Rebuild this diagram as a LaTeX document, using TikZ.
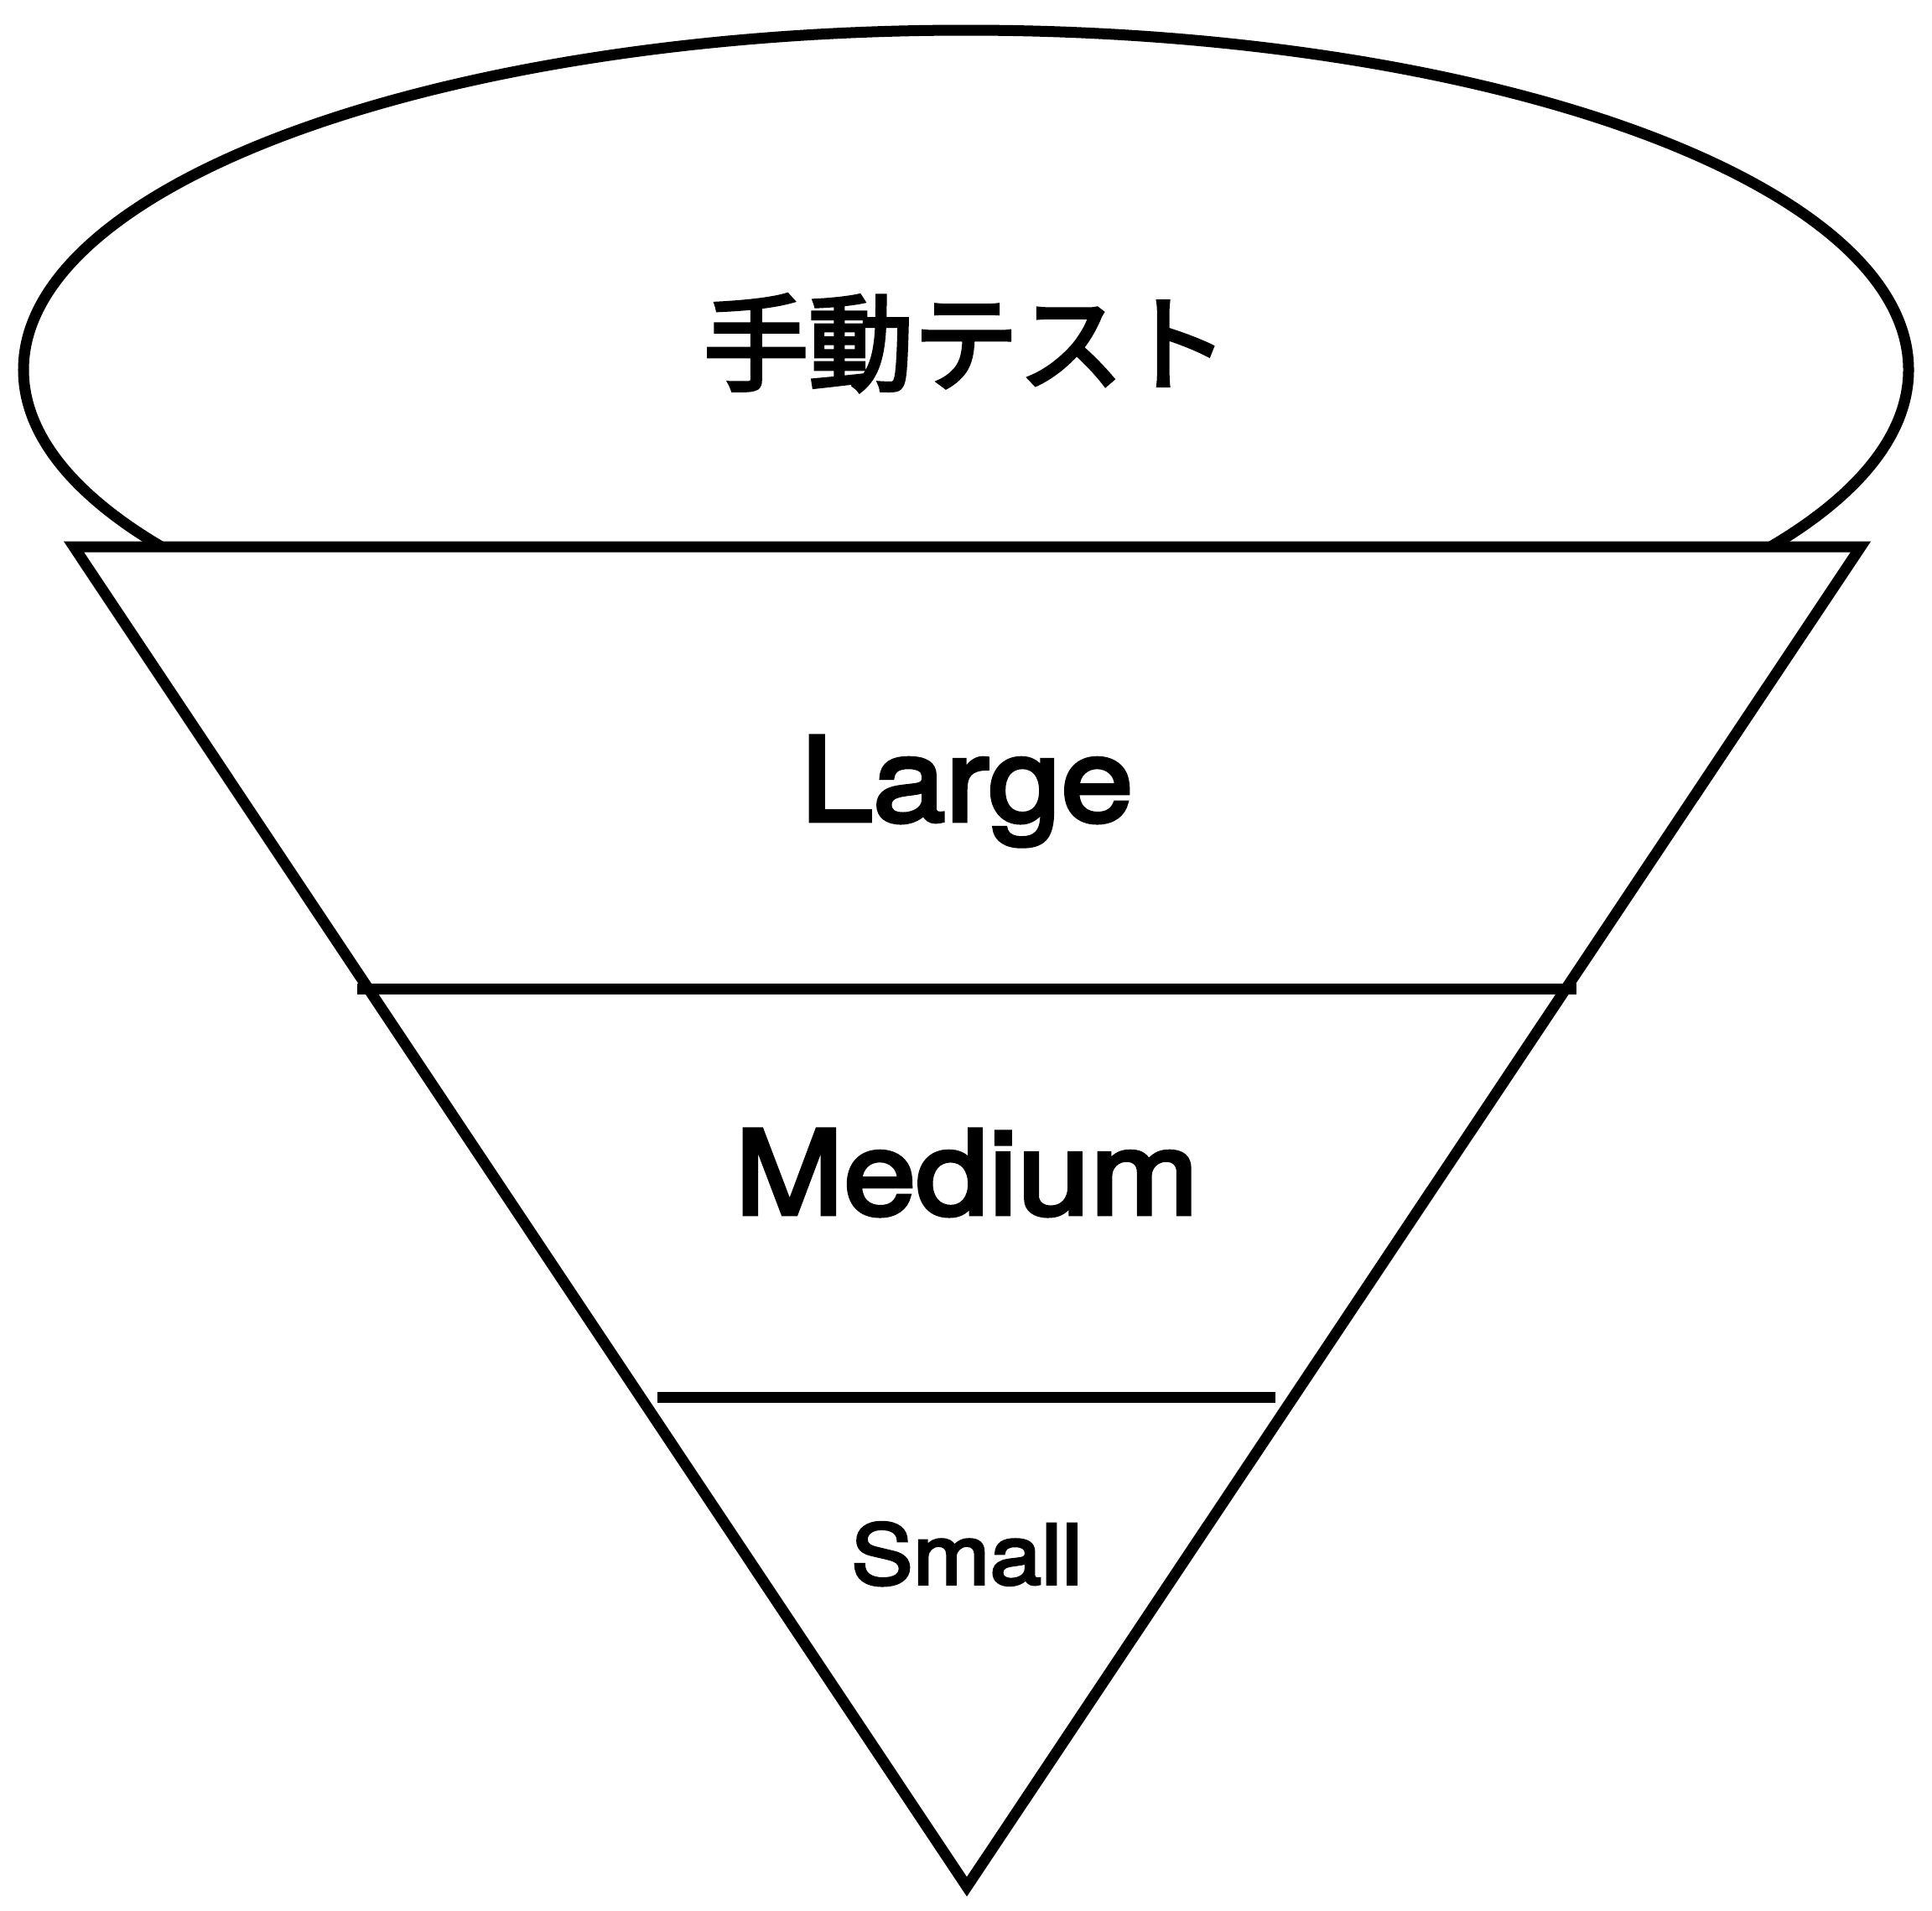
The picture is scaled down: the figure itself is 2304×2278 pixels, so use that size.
\documentclass[tikz,border=0pt]{standalone}
\usepackage{fontspec}
\newfontfamily\tierfont{TeX Gyre Heros}[FakeBold=3.5, FakeStretch=1.12]
\newfontfamily\jpfont{Noto Sans CJK JP}[FakeBold=3.5]
\usepackage{tikz}
\usetikzlibrary{positioning}

\begin{document}
\begin{tikzpicture}[x=0.01cm, y=-0.01cm,
  outline/.style={draw=black, line width=3.7pt, line join=miter},
  bigtier/.style={anchor=base, font=\tierfont\fontsize{39.5}{47}\selectfont},
  smalltier/.style={anchor=base, font=\tierfont\fontsize{28}{34}\selectfont},
  manual/.style={font=\jpfont\fontsize{35.6}{42}\selectfont},
]
  \useasboundingbox (0,0) rectangle (2304,2278);

  \coordinate (topL) at (88,652);
  \coordinate (topR) at (2219,652);
  \coordinate (tip) at (1153,2250);

  % manual tests on top
  \begin{scope}
    \clip (0,0) rectangle (2304,652);
    \draw[outline] (1152,441) ellipse [x radius=1124, y radius=405];
  \end{scope}
  \node[manual] (manualtest) at (1152,409) {手動テスト};

  % funnel
  \draw[outline] (topL) -- (topR) -- (tip) -- cycle;
  \coordinate (midL) at (426,1179);
  \coordinate (midR) at (1880,1179);
  \coordinate (lowL) at (784,1666);
  \coordinate (lowR) at (1521,1666);
  \draw[outline] (midL) -- (midR);
  \draw[outline] (lowL) -- (lowR);

  \node[bigtier] (large) at (1153,979) {Large};
  \node[bigtier] (medium) at (1153,1448) {Medium};
  \node[smalltier] (small) at (1153,1889) {Small};
\end{tikzpicture}
\end{document}
